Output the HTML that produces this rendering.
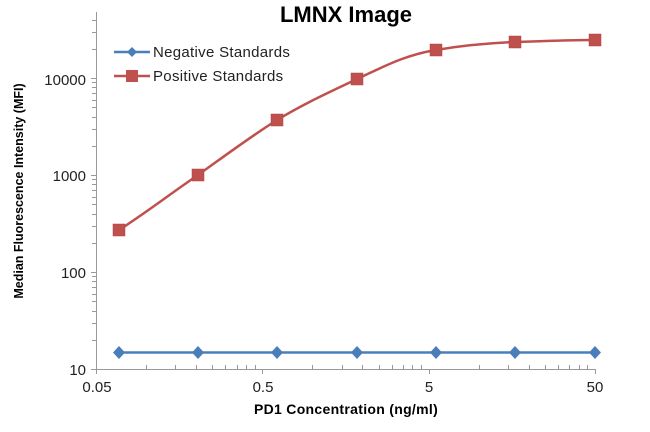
<!DOCTYPE html>
<html><head><meta charset="utf-8"><style>
html,body{margin:0;padding:0;background:#fff;}
svg{display:block;font-family:"Liberation Sans",sans-serif;}
</style></head><body>
<svg id="s" width="650" height="432" viewBox="0 0 650 432">
<text x="346" y="22" text-anchor="middle" font-size="22" font-weight="bold" fill="#000">LMNX Image</text>
<g stroke="#999" stroke-width="1" fill="none" id="ax">
<line x1="96.5" y1="12" x2="96.5" y2="369.5"/>
<line x1="96" y1="369.5" x2="596" y2="369.5"/>
</g>
<g font-size="15" fill="#222" text-anchor="end">
<text x="86" y="375">10</text>
<text x="86" y="278">100</text>
<text x="86" y="181">1000</text>
<text x="86" y="85">10000</text>
</g>
<g font-size="15" fill="#222" text-anchor="middle">
<text x="97" y="392">0.05</text>
<text x="263" y="392">0.5</text>
<text x="429" y="392">5</text>
<text x="595" y="392">50</text>
</g>
<text x="346" y="414" text-anchor="middle" font-size="14" font-weight="bold" fill="#000" letter-spacing="0.3">PD1 Concentration  (ng/ml)</text>
<text transform="translate(23,191) rotate(-90)" text-anchor="middle" font-size="12.5" font-weight="bold" fill="#000">Median Fluorescence Intensity (MFI)</text>
<path d="M119,230 C150,210 170,194 198,175 C226,155 250,137 277,120 C305,103 330,92 357,79 C385,66 405,55 436,50 C465,45 490,43 515,42 C545,41 570,40 595,40" stroke="#c0504d" stroke-width="2.5" fill="none"/>
<g fill="#c0504d" stroke="#a94442" stroke-width="0.5">
<rect x="113" y="224" width="12" height="12"/>
<rect x="192" y="169" width="12" height="12"/>
<rect x="271" y="114" width="12" height="12"/>
<rect x="351" y="73" width="12" height="12"/>
<rect x="430" y="44" width="12" height="12"/>
<rect x="509" y="36" width="12" height="12"/>
<rect x="589" y="34" width="12" height="12"/>
</g>
<line x1="119" y1="352.5" x2="595" y2="352.5" stroke="#4a7ebb" stroke-width="2.5"/>
<g fill="#4a7ebb" id="dm"></g>
<line x1="114" y1="52" x2="150" y2="52" stroke="#4a7ebb" stroke-width="2.5"/>
<path d="M132,47 L137,52 L132,57 L127,52Z" fill="#4a7ebb"/>
<text x="153" y="57" font-size="15" fill="#222" letter-spacing="0.3">Negative Standards</text>
<line x1="114" y1="76" x2="150" y2="76" stroke="#c0504d" stroke-width="2.5"/>
<rect x="126" y="70" width="12" height="12" fill="#c0504d"/>
<text x="153" y="81" font-size="15" fill="#222" letter-spacing="0.3">Positive Standards</text>
</svg>
<script>
var ns="http://www.w3.org/2000/svg",ax=document.getElementById("ax");
function L(a,b,c,d){var l=document.createElementNS(ns,"line");l.setAttribute("x1",a);l.setAttribute("y1",b);l.setAttribute("x2",c);l.setAttribute("y2",d);ax.appendChild(l);}
for(var e=0;e<4;e++)for(var m=1;m<=9;m++){var y=369-(e+Math.log10(m))*97;if(y<11)break;L(m==1?91:92,Math.round(y)+.5,96,Math.round(y)+.5);}
var base=[0.05,0.5,5];
for(var i=0;i<3;i++)for(var m=1;m<=10;m++){var v=base[i]*m;var x=96+Math.log10(v/0.05)*166.3;if(m==1||m==10)L(Math.round(x)+.5,369,Math.round(x)+.5,374);else L(Math.round(x)+.5,365,Math.round(x)+.5,369);}
var dm=document.getElementById("dm");
[119,198,277,357,436,515,595].forEach(function(x){var p=document.createElementNS(ns,"path");p.setAttribute("d","M"+x+",346 L"+(x+6)+",352.5 L"+x+",359 L"+(x-6)+",352.5Z");dm.appendChild(p);});
</script>
</body></html>
